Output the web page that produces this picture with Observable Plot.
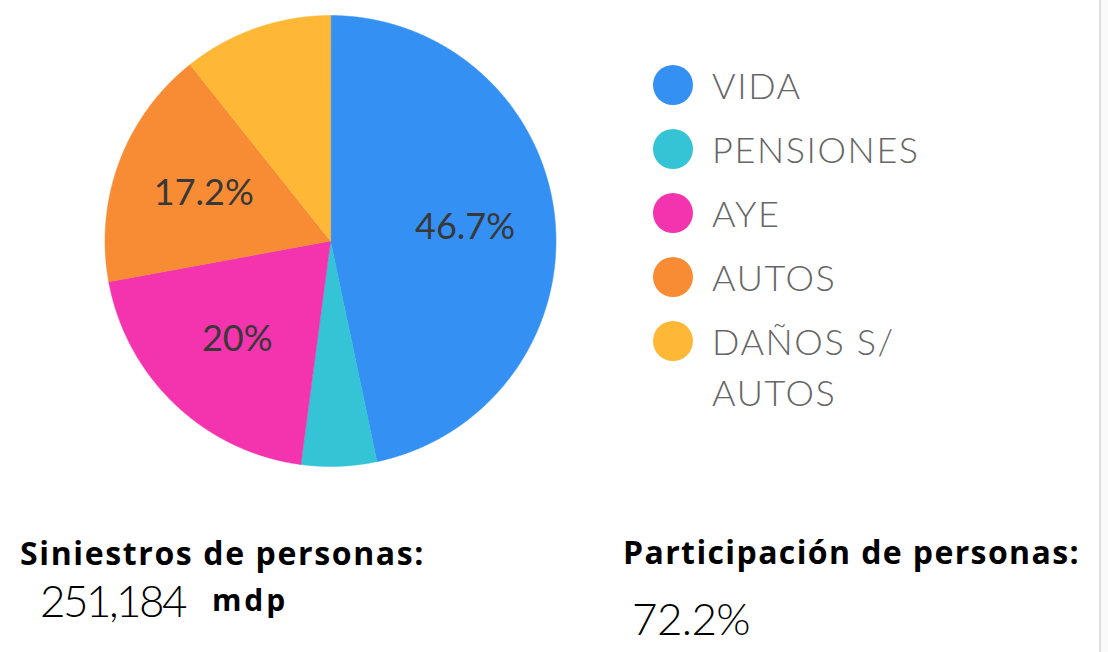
<!DOCTYPE html>
<html>
<head>
<meta charset="utf-8">
<script src="https://cdn.jsdelivr.net/npm/d3@7"></script>
<script src="https://cdn.jsdelivr.net/npm/@observablehq/plot@0.6"></script>
<style>
  html, body { margin: 0; padding: 0; background: #fff; }
  #wrap { position: relative; width: 1108px; height: 652px; overflow: hidden; font-family: Lato, "Noto Sans", sans-serif; }
  #chart { position: absolute; left: 0; top: 0; }
  .abs { position: absolute; white-space: nowrap; line-height: 1; }
  .leg-dot { position: absolute; width: 40px; height: 40px; border-radius: 50%; }
  .leg-txt { position: absolute; font-size: 36px; color: #666; font-weight: 300; line-height: 51px; letter-spacing: 1.6px; white-space: normal; width: 230px; }
  .bold { font-family: "Open Sans", Lato, sans-serif; font-weight: 700; color: #000; }
  .big { font-weight: 300; color: #000; font-size: 44px; }
  #edge { position: absolute; left: 1099px; top: 0; width: 9px; height: 652px; background: #fafafa; border-left: 2px solid #dedede; box-sizing: border-box; }
</style>
</head>
<body>
<div id="wrap">
  <div id="chart"></div>
  <div id="legend"></div>
  <div class="abs bold fit" data-w="405" style="left:20px; top:537px; font-size:32px;">Siniestros de personas:</div>
  <div class="abs big fit" data-w="145" style="left:40px; top:578px;">251,184</div>
  <div class="abs bold fit" data-w="76" style="left:212px; top:585px; font-size:30px;">mdp</div>
  <div class="abs bold fit" data-w="457" style="left:623px; top:536px; font-size:32px;">Participación de personas:</div>
  <div class="abs big fit" data-w="118" style="left:632px; top:596px;">72.2%</div>
  <div id="edge"></div>
</div>
<script>
const categories = ["VIDA", "PENSIONES", "AYE", "AUTOS", "DAÑOS S/ AUTOS"];
const values = [46.7, 5.4, 20, 17.2, 10.7];
const colors = ["#3590f3", "#35c4d5", "#f434ae", "#f78c35", "#ffb835"];
const labelThreshold = 15;

const data = categories.map((c, i) => ({category: c, value: values[i]}));
const arcs = d3.pie().sort(null).value(d => d.value)(data);

// polygon points for each slice (unit circle, angle 0 at top, clockwise)
const pts = [];
arcs.forEach(a => {
  const c = a.data.category;
  pts.push({category: c, x: 0, y: 0});
  const n = Math.max(2, Math.ceil((a.endAngle - a.startAngle) / 0.005));
  for (let k = 0; k <= n; k++) {
    const t = a.startAngle + (a.endAngle - a.startAngle) * k / n;
    pts.push({category: c, x: Math.sin(t), y: Math.cos(t)});
  }
});
const labelR = 0.6;
const labels = arcs.filter(a => a.data.value >= labelThreshold).map(a => {
  const m = (a.startAngle + a.endAngle) / 2;
  return {x: labelR * Math.sin(m), y: labelR * Math.cos(m), text: a.data.value + "%"};
});

const cx = 330, cy = 240.5, R = 225.5;
const plot = Plot.plot({
  width: 1108,
  height: 652,
  x: {domain: [-1, 1], range: [cx - R, cx + R], axis: null},
  y: {domain: [-1, 1], range: [cy + R, cy - R], axis: null},
  color: {domain: categories, range: colors},
  style: {background: "transparent", fontFamily: "Lato, 'Noto Sans', sans-serif"},
  marks: [
    Plot.line(pts, {x: "x", y: "y", z: "category", fill: "category", stroke: "category", strokeWidth: 0.5, curve: "linear-closed"}),
    Plot.text(labels, {x: "x", y: "y", text: "text", fontSize: 36, fontWeight: 400, fill: "#383838"})
  ]
});
document.getElementById("chart").appendChild(plot);

// legend
const leg = document.getElementById("legend");
categories.forEach((c, i) => {
  const dot = document.createElement("div");
  dot.className = "leg-dot";
  dot.style.left = (673 - 20) + "px";
  dot.style.top = (85 + 64 * i - 20) + "px";
  dot.style.background = colors[i];
  leg.appendChild(dot);
  const t = document.createElement("div");
  t.className = "leg-txt";
  t.style.left = "712px";
  t.style.top = (85 + 64 * i - 25) + "px";
  t.textContent = c;
  leg.appendChild(t);
});

// fit text widths to the reference layout via letter-spacing
document.querySelectorAll(".fit").forEach(el => {
  const target = +el.dataset.w;
  const w = el.getBoundingClientRect().width;
  const n = el.textContent.length;
  el.style.letterSpacing = ((target - w) / n) + "px";
});
</script>
</body>
</html>
